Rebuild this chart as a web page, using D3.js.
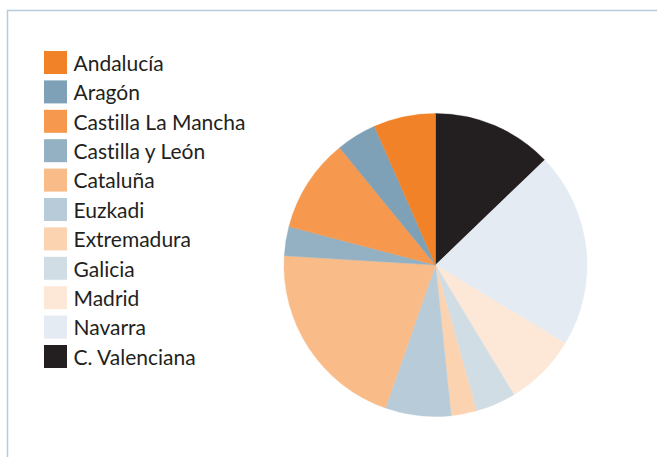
<!DOCTYPE html>
<html>
<head>
<meta charset="utf-8">
<script src="https://cdn.jsdelivr.net/npm/d3@7"></script>
<style>
  html, body { margin: 0; padding: 0; background: #fff; }
  svg { display: block; }
  text { font-variant-ligatures: none; font-feature-settings: "liga" 0, "clig" 0; }
</style>
</head>
<body>
<svg id="chart" width="657" height="457"></svg>
<script>
// Regions, in legend order
const regions = ["Andalucía", "Aragón", "Castilla La Mancha", "Castilla y León", "Cataluña",
  "Euzkadi", "Extremadura", "Galicia", "Madrid", "Navarra", "C. Valenciana"];
// Share of each region (%)
const shares = [6.6, 4.3, 10.0, 3.1, 20.6, 7.0, 2.7, 4.3, 7.7, 20.8, 12.8];
const colors = ["#f28227", "#7fa1b7", "#f6984d", "#94b1c4", "#f9bb87", "#b7cbd8",
  "#fcd3b0", "#d1dde5", "#fde8d7", "#e4ebf2", "#231f20"];

const svg = d3.select("#chart");

// Frame: top and left rules
svg.append("path")
  .attr("d", "M7.5,457 V10.5 H657")
  .attr("fill", "none")
  .attr("stroke", "#b9cbd9")
  .attr("stroke-width", 1.5);

const data = regions.map((r, i) => ({ region: r, value: shares[i], color: colors[i] }));

// Slices run clockwise from 12 o'clock, last legend entry first
const pie = d3.pie().sort(null).value(d => d.value);
const arcs = pie(data.slice().reverse());
const arc = d3.arc().innerRadius(0).outerRadius(151.5);

svg.append("g")
  .attr("transform", "translate(435.5,265)")
  .selectAll("path")
  .data(arcs)
  .join("path")
  .attr("d", arc)
  .attr("fill", d => d.data.color)
  .attr("stroke", d => d.data.color)
  .attr("stroke-width", 0.4);

// Legend
const legend = svg.append("g").attr("transform", "translate(44,51)");
const item = legend.selectAll("g")
  .data(data)
  .join("g")
  .attr("transform", (d, i) => `translate(0,${i * 29.4})`);
item.append("rect")
  .attr("width", 23).attr("height", 23)
  .attr("fill", d => d.color);
item.append("text")
  .attr("x", 29.5).attr("y", 19.7)
  .attr("font-family", "Lato, sans-serif")
  .attr("font-size", 21)
  .attr("fill", "#231f20")
  .text(d => d.region);
</script>
</body>
</html>
